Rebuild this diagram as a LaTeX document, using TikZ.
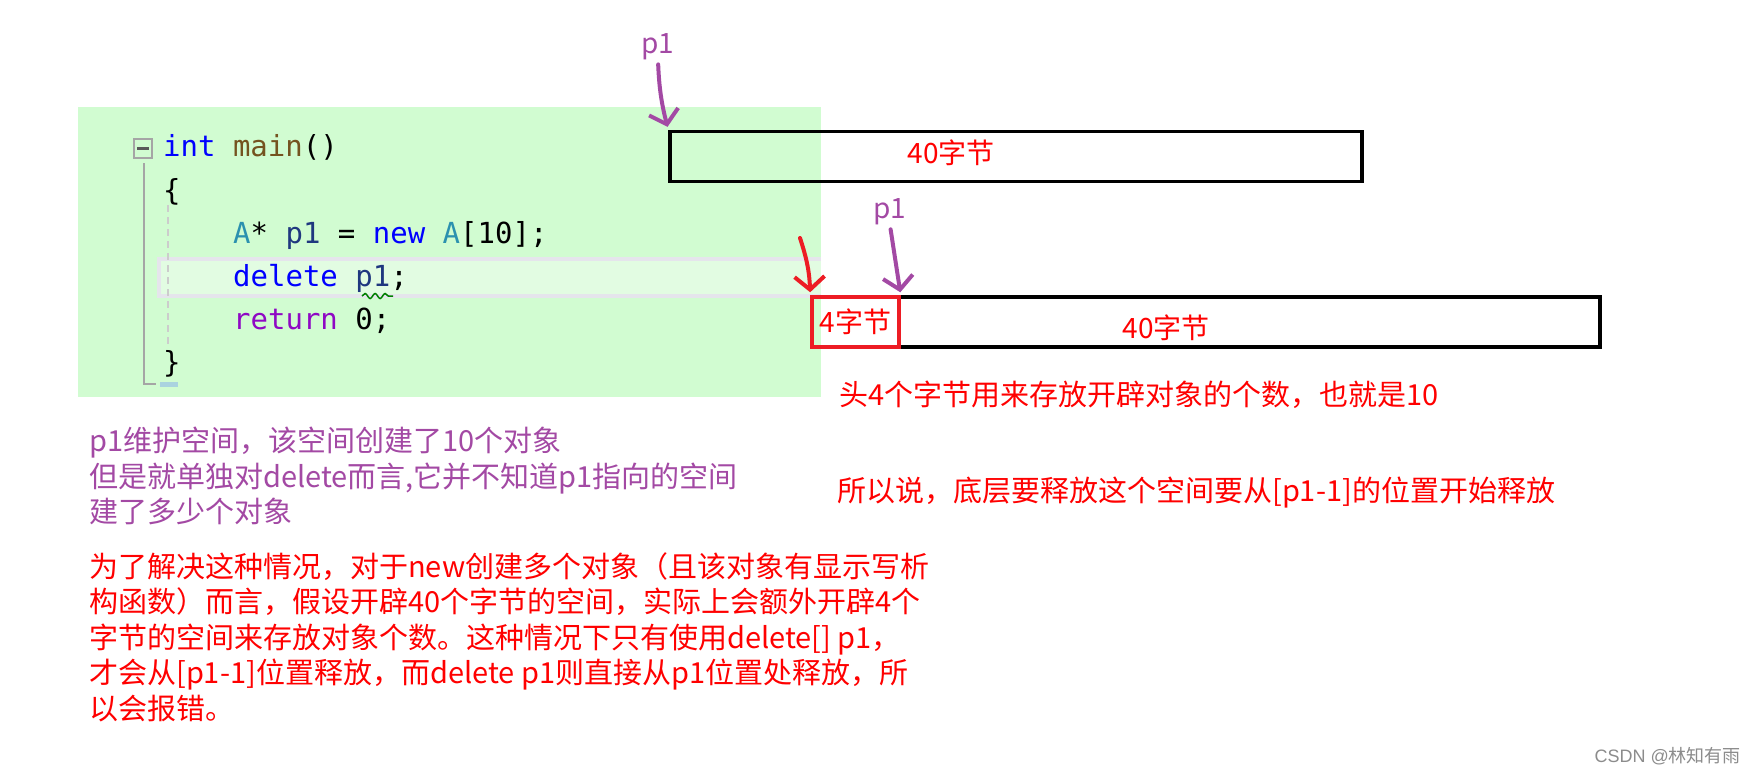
\documentclass[tikz,border=0pt]{standalone}
\usepackage{fontspec}
\usepackage{xcolor}
\usetikzlibrary{arrows.meta,positioning,decorations.pathmorphing}

\newfontfamily\cjk{Noto Sans CJK SC}
\newfontfamily\codefont{DejaVu Sans Mono}
\newfontfamily\wmfont{Liberation Sans}

\definecolor{vsgreen}{RGB}{209,252,209}
\definecolor{bandfill}{RGB}{226,252,226}
\definecolor{bandline}{RGB}{229,229,236}
\definecolor{pen}{RGB}{163,73,164}
\definecolor{paintred}{RGB}{237,28,36}
\definecolor{kw}{RGB}{0,0,255}
\definecolor{fn}{RGB}{116,83,31}
\definecolor{ty}{RGB}{43,145,175}
\definecolor{var}{RGB}{31,55,127}
\definecolor{ctl}{RGB}{143,8,196}
\definecolor{gut}{RGB}{165,165,165}

\begin{document}
\begin{tikzpicture}[x=1pt, y=-1pt,
  every node/.style={inner sep=0pt},
  note/.style={font=\cjk\fontsize{29}{35.5}\selectfont, align=left, anchor=north west},
  tag/.style={font=\cjk\fontsize{28}{30}\selectfont},
  code/.style={font=\codefont\fontsize{29}{35}\selectfont, anchor=base west},
  cell/.style={draw, line width=3.5pt, minimum height=50pt},
  hand/.style={line width=4pt, line cap=round, shorten >=3pt,
               -{Straight Barb[length=13pt, width=30pt]}}]

\useasboundingbox[fill=white] (0,0) rectangle (1754,774);

% editor panel
\fill[vsgreen] (78,107) rectangle (821,397);
\fill[bandline] (157,257) rectangle (821,298);
\fill[bandfill] (161,261) rectangle (821,294);
\draw[gut, line width=2pt] (134,139) rectangle (152,158);
\draw[black!65, line width=2.5pt] (137,148.5) -- (149,148.5);
\draw[gut, line width=2.5pt] (144,163) -- (144,384) -- (156,384);
\fill[ty!40] (160,382) rectangle (178,387);
\draw[black!20, line width=2pt, dash pattern=on 7pt off 5pt] (168,205) -- (168,345);

\node[code] (l1) at (163,156) {\textcolor{kw}{int} \textcolor{fn}{main}()};
\node[code] (l2) at (163,200) {\{};
\node[code] (l3) at (233,243) {\textcolor{ty}{A}* \textcolor{var}{p1} = \textcolor{kw}{new} \textcolor{ty}{A}[10];};
\node[code] (l4) at (233,286) {\textcolor{kw}{delete} \textcolor{var}{p1};};
\node[code] (l5) at (233,329) {\textcolor{ctl}{return} 0;};
\node[code] (l6) at (163,372) {\}};
\draw[green!50!black, line width=1.5pt, decorate,
      decoration={snake, segment length=10pt, amplitude=2.5pt}] (362,296) -- (393,296);

% memory blocks
\node[cell, minimum width=692pt] (topbuf) at (1016,156.5) {};
\node[tag, text=red] (toplbl) at (951,153) {40字节};
\node[cell, minimum width=701pt] (body) at (1249.5,322) {};
\node[cell, draw=paintred, minimum width=87pt, tag, text=red] (hdr) at (855.5,322) {4字节};
\node[tag, text=red] (bodylbl) at (1166,328) {40字节};

% pointers
\node[tag, text=pen] (p1a) at (658,47) {p1};
\node[tag, text=pen] (p1b) at (890,212) {p1};
\coordinate (redtail) at (800,238);
\draw[hand, pen, shorten <=4pt] (p1a.south) to[bend right=6] (topbuf.north west);
\draw[hand, pen, shorten <=4pt] (p1b.south) -- (hdr.north east);
\draw[hand, paintred] (redtail) to[bend left=8] (hdr.north west);

% notes
\node[note, anchor=base west, text=red] (cnt) at (839,405) {头4个字节用来存放开辟对象的个数，也就是10};
\node[note, anchor=base west, text=red] (why) at (837,501) {所以说，底层要释放这个空间要从[p1-1]的位置开始释放};
\node[note, text=pen] (obs) at (89,427) {p1维护空间，该空间创建了10个对象\\
  但是就单独对delete而言,它并不知道p1指向的空间\\
  建了多少个对象};
\node[note, text=red] (fix) at (89,552) {为了解决这种情况，对于new创建多个对象（且该对象有显示写析\\
  构函数）而言，假设开辟40个字节的空间，实际上会额外开辟4个\\
  字节的空间来存放对象个数。这种情况下只有使用delete[] p1，\\
  才会从[p1-1]位置释放，而delete p1则直接从p1位置处释放，所\\
  以会报错。};

\node[anchor=base east, text=black!45, font=\fontsize{18}{20}\selectfont] (mark) at (1741,762) {\wmfont CSDN @\cjk 林知有雨};
\end{tikzpicture}
\end{document}
